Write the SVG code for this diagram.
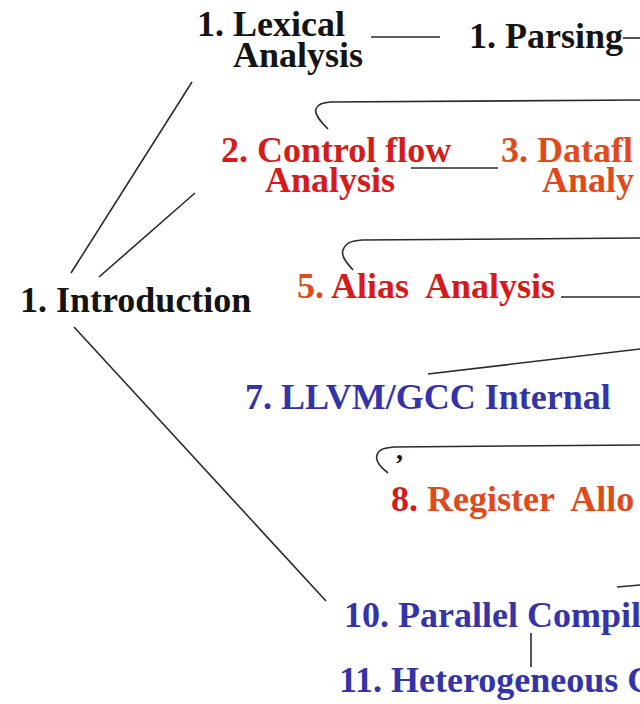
<svg xmlns="http://www.w3.org/2000/svg" width="640" height="704" viewBox="0 0 640 704">
<style>
text{font-family:"Liberation Serif","Times New Roman",serif;font-weight:bold;font-size:36px;white-space:pre}
.k{fill:#141414}.r{fill:#d41c1c}.o{fill:#df4a1c}.b{fill:#3434a6}
.c line,.c path{stroke:#2a2a2a;stroke-width:1.6;fill:none}
</style>
<rect width="640" height="704" fill="#fff"/>
<g class="c" id="connectors">
<line x1="371" y1="37" x2="440" y2="37"/>
<line x1="623" y1="38" x2="640" y2="38"/>
<path d="M328,129 C320,121 314,114 316,109 C318,104 322,103 330,102 L640,100"/>
<line x1="411" y1="168" x2="498" y2="168"/>
<path d="M353,270 C346,262 341,256 343,250 C346,242 352,241 362,240 L640,238"/>
<line x1="561" y1="297" x2="640" y2="297"/>
<line x1="428" y1="374" x2="640" y2="349"/>
<path d="M388,473 C380,467 375,461 377,455 C379,449 384,448 394,447 L640,445"/>
<line x1="617" y1="587" x2="640" y2="585"/>
<line x1="531" y1="633" x2="531" y2="667"/>
<line x1="71" y1="273" x2="192" y2="82"/>
<line x1="99" y1="277" x2="195" y2="193"/>
<line x1="74" y1="327" x2="326" y2="601"/>
</g>
<g id="intro"><text class="k" x="20" y="312">1. Introduction</text></g>
<g id="lexical"><text class="k" x="197" y="36">1. Lexical<tspan x="233" dy="31">Analysis</tspan></text></g>
<g id="parsing"><text class="k" x="469" y="48">1. Parsing</text></g>
<g id="control"><text class="r" x="221" y="162">2. Control flow<tspan x="265" dy="30">Analysis</tspan></text></g>
<g id="dataflow"><text class="o" x="501" y="162">3. Datafl<tspan x="542" dy="30">Analy</tspan></text></g>
<g id="alias"><text x="297" y="298"><tspan class="o">5.</tspan><tspan class="r"> Alias  Analysis</tspan></text></g>
<g id="llvm"><text class="b" x="245" y="409">7. LLVM/GCC Internal</text></g>
<g id="comma"><text class="k" x="396" y="459" style="font-size:28px">,</text></g>
<g id="register"><text x="391" y="511"><tspan class="r">8.</tspan><tspan class="o"> Register  Allo</tspan></text></g>
<g id="parallel"><text class="b" x="344" y="627">10. Parallel Compil</text></g>
<g id="hetero"><text class="b" x="339" y="692">11. Heterogeneous C</text></g>
</svg>
